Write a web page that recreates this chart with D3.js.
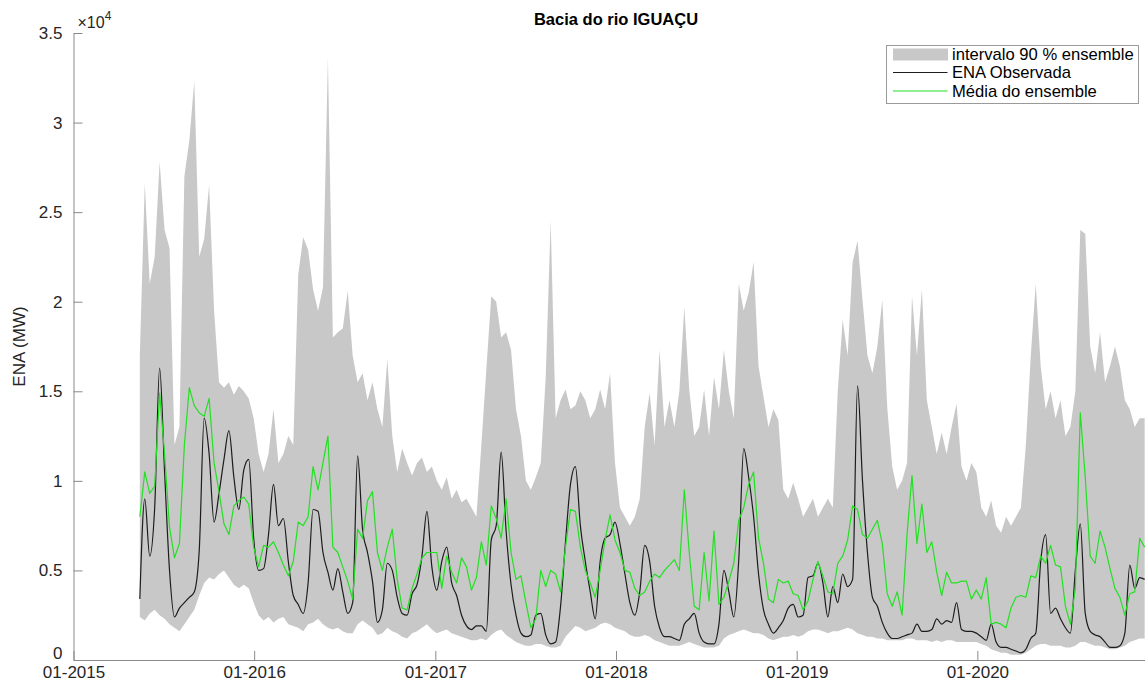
<!DOCTYPE html>
<html>
<head>
<meta charset="utf-8">
<script src="https://cdn.jsdelivr.net/npm/d3@7"></script>
<style>
  body { margin: 0; background: #fff; }
  svg { display: block; font-family: "Liberation Sans", Arial, Helvetica, sans-serif; }
</style>
</head>
<body>
<div id="chart"></div>
<script>
// ENA values in thousands of MW (the axis shows them as x10^4)
// one value every 10 days starting mid May 2015
const startDate = new Date(2015, 4, 15);
const stepDays = 10;

const upper90 = [
  17, 26.6, 21, 22.5, 27.8, 24, 23, 12, 13, 27,
  29, 32.3, 22.5, 23.5, 26.5, 19.5, 15.5, 15.2, 15.5, 14.8,
  15.3, 15.0, 14.6, 13.5, 11.5, 10.5, 11.5, 14.0, 11.0, 11.5,
  12.5, 12.0, 21.5, 23.6, 22.9, 20.7, 19.5, 20.8, 33.6, 18.0,
  18.3, 18.5, 20.6, 17.0, 15.5, 16.0, 14.5, 15.5, 14.0, 13.0,
  16.8, 12.5, 10.5, 11.8, 11.0, 10.3, 11.0, 11.3, 10.5, 10.8,
  10.0, 9.5, 10.2, 9.0, 9.5, 8.8, 9.0, 8.5, 8.0, 12.0,
  16.2, 20.3, 20.0, 18.0, 18.3, 17.3, 14.0, 12.5, 10.0, 9.5,
  10.2, 11.0, 15.8, 24.5, 13.5, 14.5, 15.1, 14.0, 14.2, 15.0,
  14.5, 13.5, 14.0, 15.1, 14.0, 16.0, 11.0, 8.5, 8.0, 7.5,
  8.0, 9.0, 13.0, 14.9, 12.0, 17.3, 13.0, 14.5, 13.0, 15.0,
  19.7, 15.1, 12.5, 13.0, 15.1, 12.5, 15.8, 14.0, 17.3, 15.0,
  13.5, 21.0, 19.5, 20.5, 22.2, 16.4, 14.7, 13.0, 14.0, 13.4,
  9.5, 9.0, 9.9, 9.0, 8.0, 8.5, 9.0, 8.0, 8.5, 9.0,
  8.5, 15.0, 19.0, 17.0, 22.2, 23.4, 20.1, 17.0, 16.0, 17.5,
  20.1, 14.1, 10.8, 9.5, 10.0, 11.0, 20.3, 17.0, 20.7, 14.5,
  13.0, 11.5, 12.7, 11.5, 13.0, 14.3, 10.8, 10.0, 11.0, 10.5,
  8.5, 8.0, 8.9, 7.5, 7.1, 8.0, 7.5, 8.0, 8.5, 12.0,
  17.0, 21.0, 16.4, 14.0, 15.0, 13.5, 14.5, 12.5, 13.0, 15.0,
  24.0, 23.8, 17.5, 16.0, 18.3, 15.5, 16.4, 17.5, 16.4, 14.5,
  14.0, 13.0, 13.5, 13.5
];

const lower90 = [
  2.4, 2.2, 2.6, 2.8, 2.5, 2.3, 2.0, 1.8, 1.6, 2.0,
  2.4, 2.8, 3.6, 4.3, 4.6, 4.5, 4.8, 5.0, 4.6, 4.2,
  4.0, 4.2, 4.0, 3.2, 2.5, 2.2, 2.4, 2.1, 2.3, 2.4,
  2.0, 1.9, 1.8, 1.6, 2.0, 2.1, 2.3, 2.0, 1.8, 1.7,
  1.8, 1.6, 1.5, 1.5, 2.0, 2.2, 2.0, 1.8, 1.4, 1.5,
  1.8, 1.6, 1.5, 1.3, 1.2, 1.5, 1.6, 1.8, 2.0, 1.7,
  1.5, 1.6, 1.7, 1.5, 1.4, 1.3, 1.2, 1.1, 1.1, 1.2,
  1.1, 1.4, 1.6, 1.7, 1.4, 1.2, 1.0, 0.9, 0.8, 0.8,
  0.9, 0.9, 0.8, 0.7, 0.7, 0.8, 1.3, 1.6, 1.9, 1.8,
  1.6, 1.7, 1.8, 2.0, 2.1, 2.0, 1.8, 1.7, 1.6, 1.4,
  1.3, 1.3, 1.4, 1.3, 1.1, 1.0, 0.9, 0.8, 0.8, 0.8,
  0.9, 1.0, 0.9, 0.8, 0.7, 0.7, 0.7, 0.8, 1.2, 1.4,
  1.5, 1.6, 1.7, 1.6, 1.5, 1.5, 1.4, 1.2, 1.1, 1.2,
  1.3, 1.3, 1.4, 1.3, 1.4, 1.6, 1.7, 1.7, 1.6, 1.5,
  1.6, 1.6, 1.7, 1.8, 1.7, 1.5, 1.4, 1.3, 1.3, 1.2,
  1.2, 1.1, 1.1, 1.1, 1.1, 1.2, 1.2, 1.1, 1.1, 1.1,
  1.0, 1.1, 1.0, 1.1, 1.1, 1.0, 1.0, 1.0, 1.0, 1.0,
  0.9, 0.8, 0.6, 0.5, 0.4, 0.4, 0.3, 0.3, 0.3, 0.4,
  0.6, 0.8, 0.9, 0.9, 0.8, 0.8, 0.8, 0.7, 0.7, 0.8,
  1.0, 1.0, 0.9, 0.8, 0.8, 0.7, 0.6, 0.6, 0.7, 0.8,
  1.0, 1.1, 1.2, 1.2
];

const observed = [
  3.4, 9.0, 5.8, 8.5, 16.3, 10.5, 5.0, 2.4, 2.9, 3.2,
  3.5, 3.8, 6.1, 13.5, 11.5, 7.7, 9.3, 11.2, 12.8, 10.2,
  8.4, 10.6, 11.2, 6.8, 5.0, 5.1, 7.0, 9.8, 7.5, 7.9,
  5.5, 3.6, 3.1, 2.6, 4.3, 8.4, 8.3, 6.0, 4.9, 3.9,
  5.1, 3.8, 2.6, 3.2, 11.4, 7.3, 6.0, 4.4, 2.1, 2.8,
  5.4, 5.0, 3.5, 2.6, 2.5, 3.7, 4.2, 5.8, 8.3, 5.2,
  3.9, 5.5, 6.3, 4.3, 3.6, 2.5, 1.9, 1.7, 1.9, 1.9,
  1.6, 6.7, 7.5, 11.6, 7.2, 4.2, 2.5, 1.5, 1.3, 1.4,
  2.5, 2.6, 1.4, 0.9, 1.0, 3.0, 6.6, 9.8, 10.8, 7.5,
  5.5, 3.8, 2.3, 5.5, 6.8, 7.0, 7.7, 6.5, 4.8, 3.2,
  2.5, 3.8, 6.4, 5.5, 3.0, 1.8, 1.3, 1.3, 1.2, 1.1,
  2.0, 2.3, 2.6, 1.5, 1.0, 0.9, 0.9, 2.0, 5.0, 3.8,
  2.4, 5.6, 11.8, 10.2, 8.0, 4.8, 2.8, 2.0, 1.5, 1.8,
  2.2, 2.9, 3.1, 2.4, 2.5, 4.6, 4.7, 5.4, 4.3, 2.4,
  4.1, 3.2, 4.8, 4.1, 4.5, 15.3, 10.0, 6.0, 3.5, 3.0,
  2.1, 1.5, 1.2, 1.2, 1.3, 1.4, 1.5, 2.0, 1.6, 1.6,
  1.7, 2.3, 2.0, 2.2, 2.1, 3.2, 1.7, 1.6, 1.6, 1.5,
  1.3, 1.1, 2.0, 1.0, 0.7, 0.7, 0.6, 0.5, 0.4, 0.6,
  1.2, 1.5, 5.5, 7.0, 2.6, 2.9, 2.3, 1.8, 1.5, 5.0,
  7.6, 2.6, 1.6, 1.4, 1.3, 1.0, 0.7, 0.7, 0.8, 1.5,
  5.3, 4.0, 4.6, 4.5
];

const ensembleMean = [
  8.0, 10.5, 9.3, 9.7, 14.9, 11.5, 7.4, 5.7, 6.5, 12.0,
  15.2, 14.2, 13.8, 13.6, 14.6, 11.0, 9.4, 7.6, 7.0, 8.6,
  8.9, 9.1, 8.7, 6.3, 5.2, 6.4, 6.3, 6.6, 6.0, 5.3,
  4.7, 5.5, 7.7, 7.5, 8.0, 10.8, 9.5, 11.0, 12.5, 6.3,
  6.0, 5.2, 4.4, 3.4, 7.3, 6.8, 8.9, 9.4, 6.0, 5.0,
  6.3, 7.3, 4.5, 2.9, 2.8, 4.0, 4.8, 5.7, 6.0, 6.0,
  6.0, 4.0, 5.8, 4.9, 4.3, 5.7, 5.2, 3.9, 4.6, 6.6,
  5.3, 8.6, 7.9, 6.8, 9.0, 6.0, 4.5, 4.7, 3.2, 1.8,
  2.3, 5.0, 4.1, 5.0, 4.8, 3.8, 6.3, 8.4, 8.3, 6.3,
  5.0, 4.3, 3.5, 5.0, 6.7, 8.1, 6.7, 6.0, 5.0, 4.9,
  4.0, 3.6, 3.8, 4.4, 4.8, 4.6, 5.0, 5.3, 5.6, 5.0,
  9.5, 6.0, 3.0, 2.8, 6.0, 3.3, 7.2, 3.1, 3.5, 4.4,
  5.4, 7.8, 8.5, 9.8, 10.5, 6.8, 5.4, 3.4, 3.2, 4.5,
  4.3, 4.4, 3.7, 3.6, 2.8, 3.3, 4.5, 5.5, 4.7, 3.8,
  3.7, 5.4, 5.8, 6.7, 8.6, 8.4, 7.0, 6.8, 7.3, 7.8,
  6.5, 3.7, 3.0, 3.8, 2.5, 7.0, 10.3, 6.5, 8.7, 6.0,
  6.6, 4.9, 3.6, 4.9, 4.3, 4.3, 4.4, 4.4, 3.4, 3.9,
  3.4, 4.6, 2.0, 2.1, 2.0, 1.8, 2.9, 3.5, 3.6, 3.5,
  4.7, 4.6, 5.8, 5.4, 6.4, 5.3, 5.2, 3.0, 2.0, 4.0,
  13.8, 10.2, 5.8, 5.4, 7.2, 6.3, 5.1, 4.0, 3.5, 2.5,
  3.7, 3.8, 6.8, 6.3
];

const yTicks = [0, 5, 10, 15, 20, 25, 30, 35];
const yTickLabels = ["0", "0.5", "1", "1.5", "2", "2.5", "3", "3.5"];
const xTickDates = ["2015-01-01", "2016-01-01", "2017-01-01", "2018-01-01", "2019-01-01", "2020-01-01"];
const xTickLabels = ["01-2015", "01-2016", "01-2017", "01-2018", "01-2019", "01-2020"];
const legendLabels = ["intervalo 90 % ensemble", "ENA Observada", "Média do ensemble"];

class EnsembleChart {
  constructor(_config) {
    this.config = {
      parentElement: _config.parentElement,
      containerWidth: _config.containerWidth || 1145,
      containerHeight: _config.containerHeight || 682,
      // axis box (the right end falls outside the picture)
      plot: { left: 73.5, right: 1158.5, top: 33, bottom: 660 },
      title: _config.title,
      yAxisLabel: _config.yAxisLabel,
      bandColor: "#c8c8c8",
      obsColor: "#1c1c1c",
      meanColor: "#22e022",
    };
    this.initVis();
  }

  initVis() {
    let vis = this;
    let p = vis.config.plot;

    vis.svg = d3
      .select(vis.config.parentElement)
      .append("svg")
      .attr("width", vis.config.containerWidth)
      .attr("height", vis.config.containerHeight);

    vis.x = d3
      .scaleTime()
      .domain([new Date(2015, 0, 1), new Date(2021, 0, 1)])
      .range([p.left, p.right]);

    vis.y = d3.scaleLinear().domain([0, 35]).range([p.bottom, p.top]);

    vis.data = observed.map((d, i) => ({
      date: d3.timeDay.offset(startDate, i * stepDays),
      obs: d,
      mean: ensembleMean[i],
      lo: lower90[i],
      hi: upper90[i],
    }));

    vis.updateVis();
  }

  updateVis() {
    let vis = this;

    // 90% band
    vis.svg
      .append("path")
      .datum(vis.data)
      .attr("fill", vis.config.bandColor)
      .attr(
        "d",
        d3
          .area()
          .x((d) => vis.x(d.date))
          .y0((d) => vis.y(d.lo))
          .y1((d) => vis.y(d.hi))
      );

    // observed ENA
    vis.svg
      .append("path")
      .datum(vis.data)
      .attr("fill", "none")
      .attr("stroke", vis.config.obsColor)
      .attr("stroke-width", 1.2)
      .attr("stroke-linejoin", "round")
      .attr(
        "d",
        d3
          .line()
          .curve(d3.curveMonotoneX)
          .x((d) => vis.x(d.date))
          .y((d) => vis.y(d.obs))
      );

    // ensemble mean on top
    vis.svg
      .append("path")
      .datum(vis.data)
      .attr("fill", "none")
      .attr("stroke", vis.config.meanColor)
      .attr("stroke-width", 1.2)
      .attr("stroke-linejoin", "round")
      .attr(
        "d",
        d3
          .line()
          .x((d) => vis.x(d.date))
          .y((d) => vis.y(d.mean))
      );

    this.addAxes();
    this.addLegend();
  }

  addAxes() {
    let vis = this;
    let p = vis.config.plot;
    const parseDay = d3.timeParse("%Y-%m-%d");

    vis.xAxis = d3
      .axisBottom(vis.x)
      .tickValues(xTickDates.map(parseDay))
      .tickFormat((d, i) => xTickLabels[i])
      .tickSizeInner(-9)
      .tickSizeOuter(0)
      .tickPadding(6);

    vis.yAxis = d3
      .axisLeft(vis.y)
      .tickValues(yTicks)
      .tickFormat((d, i) => yTickLabels[i])
      .tickSizeInner(-9)
      .tickSizeOuter(0)
      .tickPadding(11);

    let gx = vis.svg
      .append("g")
      .attr("transform", `translate(0, ${p.bottom})`)
      .call(vis.xAxis);

    let gy = vis.svg
      .append("g")
      .attr("transform", `translate(${p.left}, 0)`)
      .call(vis.yAxis);

    [gx, gy].forEach((g) => {
      g.select(".domain").attr("stroke", "#8a8a8a").attr("stroke-width", 1);
      g.selectAll(".tick line").attr("stroke", "#8a8a8a");
      g.selectAll(".tick text")
        .attr("fill", "#262626")
        .style("font-size", "17px")
        .style("font-family", '"Liberation Sans", Arial, sans-serif');
    });

    // the "0" sits right above the first date label, lift it so they don't touch
    gy.selectAll(".tick text").filter((d) => d === 0).attr("dy", "-0.06em");

    // exponent above the y axis
    let expo = vis.svg
      .append("text")
      .attr("x", p.left + 4)
      .attr("y", 28)
      .attr("fill", "#262626")
      .style("font-size", "16px");
    expo.append("tspan").text("\u00d710");
    expo.append("tspan").attr("dy", -8).style("font-size", "12px").text("4");

    // Y axis label
    vis.svg
      .append("text")
      .attr("text-anchor", "middle")
      .attr("transform", `translate(25, ${(p.top + p.bottom) / 2}) rotate(-90)`)
      .attr("fill", "#262626")
      .style("font-size", "17px")
      .text(vis.config.yAxisLabel);

    // title
    vis.svg
      .append("text")
      .attr("x", (p.left + p.right) / 2)
      .attr("y", 25)
      .attr("text-anchor", "middle")
      .attr("fill", "#000")
      .style("font-size", "16.5px")
      .style("font-weight", "bold")
      .text(vis.config.title);
  }

  addLegend() {
    let vis = this;

    vis.legend = vis.svg.append("g").attr("transform", "translate(886.5, 45.5)");

    vis.legend
      .append("rect")
      .attr("width", 252)
      .attr("height", 58)
      .attr("fill", "#fff")
      .attr("stroke", "#9a9a9a");

    const rows = [9, 27, 45.5];

    vis.legend
      .append("rect")
      .attr("x", 6.5)
      .attr("y", rows[0] - 6)
      .attr("width", 55)
      .attr("height", 12)
      .attr("fill", vis.config.bandColor);

    vis.legend
      .append("line")
      .attr("x1", 6.5)
      .attr("x2", 61)
      .attr("y1", rows[1])
      .attr("y2", rows[1])
      .attr("stroke", vis.config.obsColor)
      .attr("stroke-width", 1.2);

    vis.legend
      .append("line")
      .attr("x1", 6.5)
      .attr("x2", 61)
      .attr("y1", rows[2])
      .attr("y2", rows[2])
      .attr("stroke", vis.config.meanColor)
      .attr("stroke-width", 1.2);

    vis.legend
      .selectAll("text.lbl")
      .data(legendLabels)
      .join("text")
      .attr("class", "lbl")
      .attr("x", 65.5)
      .attr("y", (d, i) => rows[i])
      .attr("dy", "0.35em")
      .attr("fill", "#000")
      .style("font-size", "16.6px")
      .text((d) => d);
  }
}

new EnsembleChart({
  parentElement: "#chart",
  title: "Bacia do rio IGUAÇU",
  yAxisLabel: "ENA (MW)",
});
</script>
</body>
</html>
